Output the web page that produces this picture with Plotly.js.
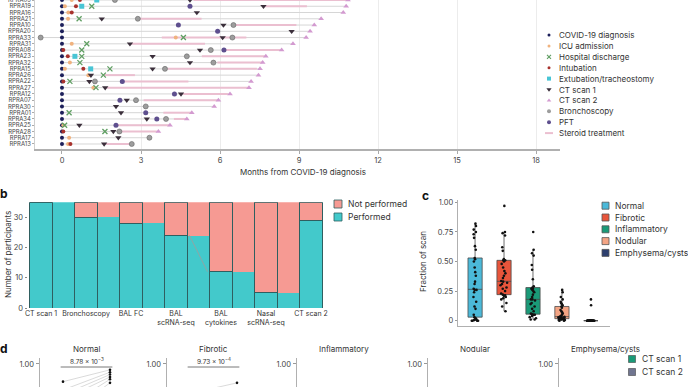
<!DOCTYPE html>
<html><head><meta charset="utf-8">
<script src="https://cdn.plot.ly/plotly-3.0.1.min.js"></script>
<style>html,body{margin:0;padding:0;background:#fff}#chart{width:688px;height:387px}</style>
</head><body><div id="chart"></div>
<script>
// ================= DATA =================
// ---- Panel a: clinical timeline (months from COVID-19 diagnosis), rows top -> bottom
const participants = ["RPRA09","RPRA19","RPRA16","RPRA21","RPRA10","RPRA20","RPRA33","RPRA31","RPRA08","RPRA23","RPRA32","RPRA15","RPRA26","RPRA22","RPRA27","RPRA12","RPRA07","RPRA30","RPRA01","RPRA34","RPRA25","RPRA28","RPRA17","RPRA13"];
const covidMonths   = [0,0,0,0,0,0,0,0,0,0,0,0,0,0,0,0,0,0,0,0,0,0,0,0];
const icuMonths     = [0.37,0.11,0.24,0.23,null,null,4.32,0.37,null,null,0.30,0.11,1.00,null,1.19,null,null,null,null,null,0.05,null,0.27,0.23];
const dischargeMonths = [null,1.13,null,0.65,null,null,4.61,0.94,0.75,0.75,0.68,1.82,1.57,0.30,1.29,null,null,null,0.27,null,0.10,1.63,null,null];
const intubationMonths = [0.68,0.53,0.37,null,null,null,null,null,0.05,0.22,null,0.81,null,0.05,null,null,null,null,null,null,null,0.05,null,0.32];
const extubationMonths = [1.32,0.75,null,null,null,null,null,null,null,0.49,null,1.09,null,null,null,null,null,null,null,null,null,null,null,null];
const ct1Months     = [4.86,7.65,5.12,1.51,6.13,8.72,6.10,2.58,5.24,3.44,4.86,3.44,1.10,1.04,1.64,4.52,2.46,2.05,2.24,3.22,0.66,1.95,2.14,1.60];
const ct2Months     = [10.86,10.79,10.68,9.84,9.58,9.42,9.27,8.77,8.34,7.74,7.62,7.52,7.46,7.18,7.10,6.38,5.94,5.78,4.93,4.74,4.10,3.66,null,null];
const bronchMonths  = [2.01,null,null,2.88,6.51,null,[-0.81,6.47],null,5.65,4.74,5.75,3.91,null,1.25,null,null,2.81,3.18,null,3.95,null,2.18,3.32,2.65];
const pftMonths     = [null,4.86,null,null,4.42,5.91,null,null,6.15,null,null,null,null,2.29,null,4.27,2.20,null,3.18,3.60,2.05,null,null,null];
const steroidStart  = [5.0,7.7,null,2.9,6.6,null,3.79,2.6,6.2,5.31,5.9,4.0,1.6,2.3,1.7,4.6,3.1,null,3.85,4.25,2.1,2.2,null,1.6];
const steroidEnd    = [10.8,9.3,null,5.3,8.9,null,7.0,5.43,8.3,7.7,7.6,7.4,2.77,4.8,7.1,6.3,5.9,null,4.93,4.74,4.1,3.6,null,2.6];
const monthTicks = [0,3,6,9,12,15,18];

// ---- Panel b: sample availability
const assays = ["CT scan 1","Bronchoscopy","BAL FC","BAL<br>scRNA-seq","BAL<br>cytokines","Nasal<br>scRNA-seq","CT scan 2"];
const totalParticipants = 35;
const performed = [35,30,28,24,12,5,29];

// ---- Panel c: fraction of scan per pattern (CT scan 1)
const patterns = ["Normal","Fibrotic","Inflammatory","Nodular","Emphysema/cysts"];
const fracNormal = [0,0,0,0,0.005,0.01,0.01,0.02,0.03,0.05,0.1,0.12,0.16,0.2,0.24,0.26,0.26,0.27,0.31,0.33,0.38,0.41,0.45,0.5,0.52,0.53,0.6,0.63,0.7,0.73,0.75,0.77,0.8,0.82];
const fracFibrotic = [0.08,0.12,0.15,0.18,0.19,0.2,0.21,0.215,0.22,0.23,0.25,0.27,0.28,0.3,0.31,0.32,0.33,0.335,0.36,0.38,0.4,0.42,0.45,0.48,0.5,0.51,0.51,0.52,0.59,0.62,0.72,0.74,0.75,0.97];
const fracInflammatory = [0.01,0.01,0.02,0.03,0.04,0.05,0.05,0.05,0.055,0.06,0.08,0.1,0.12,0.14,0.15,0.17,0.18,0.18,0.2,0.22,0.24,0.25,0.26,0.27,0.27,0.28,0.29,0.35,0.43,0.47,0.55,0.57,0.6,0.75];
const fracNodular = [0,0,0.005,0.005,0.01,0.01,0.012,0.015,0.017,0.018,0.02,0.02,0.025,0.028,0.03,0.032,0.033,0.035,0.04,0.05,0.06,0.07,0.08,0.09,0.11,0.12,0.13,0.14,0.15,0.16,0.18,0.2,0.24,0.26];
const fracEmphysema = [0,0,0,0,0,0,0,0,0,0,0,0,0,0,0,0,0,0,0,0,0,0,0,0,0,0,0,0,0,0,0,0,0.13,0.18];

// ---- Panel d: CT scan 1 vs CT scan 2 (paired), only top of panel visible
const dCT1 = {Normal:[0.85,0.78,0.74,0.70,0.62,0.55], Fibrotic:[0.75,0.70,0.60], Inflammatory:[0.60,0.75], Nodular:[0.26,0.20], "Emphysema/cysts":[0.18,0.13]};
const dCT2 = {Normal:[0.95,0.93,0.91,0.89,0.87,0.84], Fibrotic:[0.84,0.62,0.55], Inflammatory:[0.30,0.20], Nodular:[0.10,0.05], "Emphysema/cysts":[0,0]};
const dPvalues = {Normal:"8.78 × 10<sup>−3</sup>", Fibrotic:"9.73 × 10<sup>−4</sup>"};

// ================= LAYOUT HELPERS =================
const W = 688, H = 387;
const PX = v => v / W;
const PY = v => 1 - v / H;
const FONT = "Inter, 'Open Sans', sans-serif";
const TXT = '#333';
const traces = [];
const annotations = [];
const shapes = [];

// ================= PANEL A =================
const events = [
  {name:'COVID-19 diagnosis', data:covidMonths, symbol:'circle', color:'#1c1f5a', size:4},
  {name:'ICU admission', data:icuMonths, symbol:'circle', color:'#f0b27e', size:4},
  {name:'Hospital discharge', data:dischargeMonths, symbol:'x-thin', color:'#5f9e62', size:5},
  {name:'Intubation', data:intubationMonths, symbol:'circle', color:'#a8322d', size:4},
  {name:'Extubation/tracheostomy', data:extubationMonths, symbol:'square', color:'#48c5d5', size:5},
  {name:'CT scan 1', data:ct1Months, symbol:'triangle-down', color:'#3b2f3b', size:5.5},
  {name:'CT scan 2', data:ct2Months, symbol:'triangle-up', color:'#d39ad0', size:5},
  {name:'Bronchoscopy', data:bronchMonths, symbol:'circle', color:'#9d9d9d', size:5},
  {name:'PFT', data:pftMonths, symbol:'circle', color:'#5e4f8e', size:5}
];
const flat = v => v === null ? [] : (Array.isArray(v) ? v : [v]);

// grey follow-up lines per participant
{
  const lx = [], ly = [];
  participants.forEach((p, i) => {
    const vals = [];
    events.forEach(e => vals.push(...flat(e.data[i])));
    lx.push(Math.min(...vals), Math.max(...vals), null);
    ly.push(p, p, null);
  });
  traces.push({type:'scatter', mode:'lines', x:lx, y:ly, xaxis:'x', yaxis:'y', line:{color:'#d6d6d6', width:1}, hoverinfo:'skip'});
}
// steroid treatment segments
{
  const sx = [], sy = [];
  participants.forEach((p, i) => {
    if (steroidStart[i] !== null) { sx.push(steroidStart[i], steroidEnd[i], null); sy.push(p, p, null); }
  });
  traces.push({type:'scatter', mode:'lines', x:sx, y:sy, xaxis:'x', yaxis:'y', line:{color:'#ebbfd0', width:2}});
}
// event markers
events.forEach(e => {
  const x = [], y = [];
  participants.forEach((p, i) => flat(e.data[i]).forEach(v => { x.push(v); y.push(p); }));
  const isX = e.symbol.startsWith('x-thin');
  traces.push({type:'scatter', mode:'markers', x, y, xaxis:'x', yaxis:'y', name:e.name,
    marker:{symbol:e.symbol, color:e.color, size:e.size,
      line: isX ? {color:e.color, width:1.3} : {color: e.name==='Bronchoscopy' ? '#666' : e.color, width: e.name==='Bronchoscopy' ? 0.6 : 0}}});
});
// legend a (custom, on overlay axis)
events.forEach((e, i) => {
  const yy = 35 + i * 10.9;
  const isX = e.symbol.startsWith('x-thin');
  traces.push({type:'scatter', mode:'markers', x:[549], y:[yy], xaxis:'x9', yaxis:'y9',
    marker:{symbol:e.symbol, color:e.color, size:Math.max(e.size-1,3),
      line: isX ? {color:e.color, width:1.1} : {color:e.color, width:0}}});
  annotations.push({xref:'x9', yref:'y9', x:557, y:yy, text:e.name, showarrow:false, xanchor:'left', yanchor:'middle', font:{size:8, color:TXT}});
});
{
  const yy = 35 + events.length * 10.9;
  traces.push({type:'scatter', mode:'lines', x:[545,553], y:[yy,yy], xaxis:'x9', yaxis:'y9', line:{color:'#ebbfd0', width:2}});
  annotations.push({xref:'x9', yref:'y9', x:557, y:yy, text:'Steroid treatment', showarrow:false, xanchor:'left', yanchor:'middle', font:{size:8, color:TXT}});
}
annotations.push({xref:'x9', yref:'y9', x:303, y:172, text:'Months from COVID-19 diagnosis', showarrow:false, xanchor:'center', yanchor:'middle', font:{size:8, color:TXT}});

// ================= PANEL B =================
const TEAL = '#43c9cb', PINK = '#f69a93', OUT = '#2f5f60';
const idx = assays.map((_, i) => i);
// flows between bars first (coloured by the left bar's status)
const gapX = idx.slice(0, -1).map(i => i + 0.5);
const gapPerf = performed.slice(0, -1);
traces.push({type:'bar', x:gapX, y:gapPerf, width:0.52, xaxis:'x2', yaxis:'y2', marker:{color:TEAL, line:{width:0}}});
traces.push({type:'bar', x:gapX, y:gapPerf.map(v => totalParticipants - v), width:0.52, xaxis:'x2', yaxis:'y2', marker:{color:PINK, line:{width:0}}});
// crossing flow line between BAL scRNA-seq and BAL cytokines
traces.push({type:'scatter', mode:'lines', x:[3.3, 3.7], y:[performed[3], performed[4]], xaxis:'x2', yaxis:'y2', line:{color:'#8fa5a5', width:1}});
// outlined stacked bars on top
traces.push({type:'bar', x:idx, y:performed, width:0.5, xaxis:'x2', yaxis:'y2', marker:{color:TEAL, line:{color:OUT, width:1}}});
traces.push({type:'bar', x:idx, y:performed.map(v => totalParticipants - v), width:0.5, xaxis:'x2', yaxis:'y2', marker:{color:PINK, line:{color:OUT, width:1}}});
// legend b
[['Not performed', PINK], ['Performed', TEAL]].forEach(([t, c], i) => {
  const yy = 204 + i * 13;
  traces.push({type:'scatter', mode:'markers', x:[338], y:[yy], xaxis:'x9', yaxis:'y9', marker:{symbol:'square', size:8, color:c, line:{color:OUT, width:0.8}}});
  annotations.push({xref:'x9', yref:'y9', x:346, y:yy, text:t, showarrow:false, xanchor:'left', yanchor:'middle', font:{size:8.5, color:TXT}});
});
annotations.push({xref:'x9', yref:'y9', x:8, y:255, text:'Number of participants', textangle:-90, showarrow:false, xanchor:'center', yanchor:'middle', font:{size:8, color:TXT}});

// ================= PANEL C =================
const boxColors = ['#4bb9d9', '#e8553b', '#1a9a78', '#f3a484', '#2d3f6e'];
const fracData = [fracNormal, fracFibrotic, fracInflammatory, fracNodular, fracEmphysema];
patterns.forEach((p, i) => {
  traces.push({type:'box', y:fracData[i], x:fracData[i].map(() => p), xaxis:'x3', yaxis:'y3', name:p,
    fillcolor:boxColors[i], line:{color:'#4a4a4a', width:0.8}, boxpoints:'all', jitter:0.55, pointpos:0,
    marker:{color:'#111', size:2.6}, whiskerwidth:0});
  const yy = 205.7 + i * 11.8;
  traces.push({type:'scatter', mode:'markers', x:[605.5], y:[yy], xaxis:'x9', yaxis:'y9', marker:{symbol:'square', size:7, color:boxColors[i], line:{color:'#555', width:0.8}}});
  annotations.push({xref:'x9', yref:'y9', x:613, y:yy, text:p, showarrow:false, xanchor:'left', yanchor:'middle', font:{size:8.5, color:TXT}});
});
annotations.push({xref:'x9', yref:'y9', x:423, y:262, text:'Fraction of scan', textangle:-90, showarrow:false, xanchor:'center', yanchor:'middle', font:{size:8, color:TXT}});

// ================= PANEL D =================
const dAxisX = [39.5, 166.5, 296.5, 427.5, 558.5];
patterns.forEach((p, k) => {
  const xa = 'x' + (4 + k), ya = 'y' + (4 + k);
  const lx = [], ly = [];
  dCT1[p].forEach((v, j) => { lx.push(0, 1, null); ly.push(v, dCT2[p][j], null); });
  traces.push({type:'scatter', mode:'lines', x:lx, y:ly, xaxis:xa, yaxis:ya, line:{color:'#d0d0d0', width:0.8}});
  traces.push({type:'scatter', mode:'markers', x:dCT1[p].map(() => 0).concat(dCT2[p].map(() => 1)), y:dCT1[p].concat(dCT2[p]), xaxis:xa, yaxis:ya, marker:{color:'#111', size:2.6}});
  annotations.push({xref:xa, yref:'paper', x:0.5, y:PY(349), text:p, showarrow:false, xanchor:'center', yanchor:'middle', font:{size:8, color:TXT}});
  if (dPvalues[p]) {
    annotations.push({xref:xa, yref:'paper', x:0.5, y:PY(361), text:dPvalues[p], showarrow:false, xanchor:'center', yanchor:'middle', font:{size:6.5, color:TXT}});
    shapes.push({type:'line', xref:xa, yref:'paper', x0:-0.05, x1:1.05, y0:PY(367), y1:PY(367), line:{color:'#555', width:0.8}});
  }
});
[['CT scan 1', '#1a9a78'], ['CT scan 2', '#707590']].forEach(([t, c], i) => {
  const yy = 359 + i * 13;
  traces.push({type:'scatter', mode:'markers', x:[632], y:[yy], xaxis:'x9', yaxis:'y9', marker:{symbol:'square', size:7, color:c, line:{color:'#444', width:0.6}}});
  annotations.push({xref:'x9', yref:'y9', x:640, y:yy, text:t, showarrow:false, xanchor:'left', yanchor:'middle', font:{size:8.5, color:TXT}});
});

// panel letters
[['b', 4, 193], ['c', 425, 195], ['d', 4, 348]].forEach(([t, x, y]) => {
  annotations.push({xref:'x9', yref:'y9', x, y, text:'<b>' + t + '</b>', showarrow:false, xanchor:'center', yanchor:'middle', font:{size:12, color:'#111'}});
});

// ================= AXES =================
const layout = {
  width:W, height:H, margin:{l:0, r:0, t:0, b:0}, showlegend:false,
  paper_bgcolor:'#fff', plot_bgcolor:'rgba(0,0,0,0)',
  font:{family:FONT, color:TXT, size:8},
  barmode:'stack', bargap:0, boxmode:'overlay', boxgap:0.3,
  annotations, shapes,
  xaxis:{domain:[PX(35), PX(560)], anchor:'y', range:[-1.025, 18.91], tickvals:monthTicks, ticktext:monthTicks.map(String),
    showgrid:true, gridcolor:'#ececec', gridwidth:1, zeroline:false, showline:true, linecolor:'#b0b0b0', linewidth:2,
    ticks:'outside', ticklen:3, tickcolor:'#aaa', tickfont:{size:7.5, color:'#444'}},
  yaxis:{domain:[PY(149), 1], anchor:'x', type:'category', categoryarray:participants, range:[23.8, 0],
    tickmode:'array', tickvals:participants, ticktext:participants, showgrid:false, zeroline:false,
    showline:true, linecolor:'#cfcfcf', linewidth:1, ticks:'outside', ticklen:2, tickcolor:'#aaa', tickfont:{size:5.9, color:'#444'}},
  xaxis2:{domain:[PX(27.5), PX(324.5)], anchor:'y2', range:[-0.3, 6.3], tickvals:idx, ticktext:assays, tickangle:0,
    showgrid:false, zeroline:false, showline:false, ticks:'', tickfont:{size:7, color:'#333'}},
  yaxis2:{domain:[PY(308), PY(202.3)], anchor:'x2', range:[0, 35], tickvals:[0,10,20,30], showgrid:false, zeroline:false,
    showline:false, ticks:'outside', ticklen:2, tickcolor:'#888', tickfont:{size:7.5, color:'#444'}},
  xaxis3:{domain:[PX(457.7), PX(610)], anchor:'y3', type:'category', categoryarray:patterns, range:[-0.6, 4.66],
    showticklabels:false, showgrid:false, zeroline:false, showline:true, linecolor:'#b0b0b0', linewidth:1, ticks:''},
  yaxis3:{domain:[PY(326), PY(200)], anchor:'x3', range:[-0.045, 1.02], tickvals:[0,0.25,0.5,0.75,1], ticktext:['0','0.25','0.50','0.75','1.00'],
    showgrid:false, zeroline:false, showline:true, linecolor:'#b0b0b0', linewidth:1, ticks:'outside', ticklen:2, tickcolor:'#999', tickfont:{size:7.5, color:'#444'}},
  xaxis9:{domain:[0,1], anchor:'y9', range:[0, W], visible:false, fixedrange:true},
  yaxis9:{domain:[0,1], anchor:'x9', range:[H, 0], visible:false, fixedrange:true}
};
dAxisX.forEach((ax, k) => {
  const n = 4 + k;
  layout['xaxis' + n] = {domain:[PX(ax), PX(ax + 94)], anchor:'y' + n, range:[-0.5, 1.5], visible:false};
  layout['yaxis' + n] = {domain:[0, PY(358)], anchor:'x' + n, range:[0.805, 1.05], tickvals:[1], ticktext:['1.00'],
    showgrid:false, zeroline:false, showline:true, linecolor:'#b0b0b0', linewidth:1, ticks:'outside', ticklen:3, tickcolor:'#999', tickfont:{size:7.5, color:'#444'}};
});

Plotly.newPlot('chart', traces, layout, {staticPlot:true, displayModeBar:false});
</script>
</body></html>
